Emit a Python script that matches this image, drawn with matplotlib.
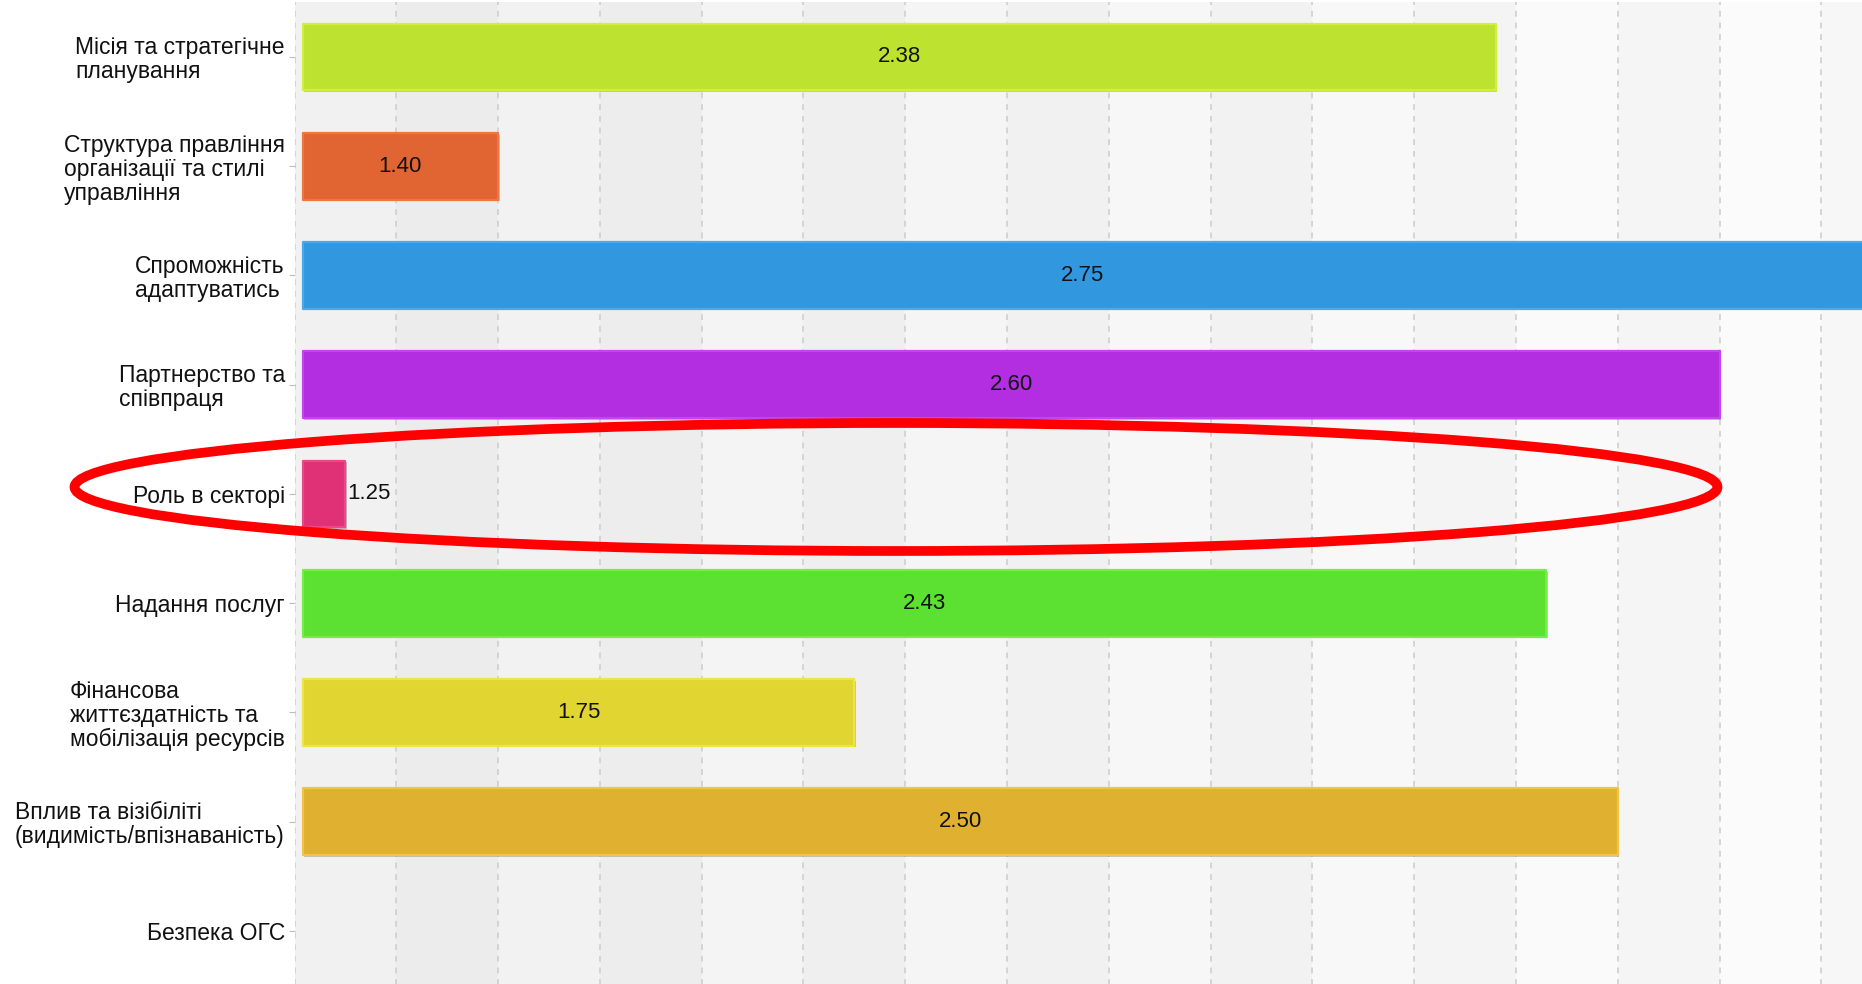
import numpy as np
import matplotlib
matplotlib.use("Agg")
import matplotlib.pyplot as plt
import matplotlib.patheffects as pe
from matplotlib.patches import Ellipse

plt.rcParams['font.family'] = ['Liberation Sans', 'DejaVu Sans']

categories = [
    "Місія та стратегічне\nпланування",
    "Структура правління\nорганізації та стилі\nуправління",
    "Спроможність\nадаптуватись",
    "Партнерство та\nспівпраця",
    "Роль в секторі",
    "Надання послуг",
    "Фінансова\nжиттєздатність та\nмобілізація ресурсів",
    "Вплив та візібіліті\n(видимість/впізнаваність)",
    "Безпека ОГС",
]
values = [2.38, 1.40, 2.75, 2.60, 1.25, 2.43, 1.75, 2.50, np.nan]
value_labels = ["2.38", "1.40", "2.75", "2.60", "1.25", "2.43", "1.75", "2.50", ""]
colors = ["#bde22f", "#e06532", "#3198e0", "#b22ee0", "#e03177",
          "#5ce031", "#e0d531", "#e0b031", "#cccccc"]
edge_colors = ["#d0f03a", "#ef7642", "#4aa8ee", "#c246ee", "#ee4686",
               "#72ee46", "#eee446", "#f2c446", "#cccccc"]

XMIN, XMAX = 1.2, 2.74
BASE = XMIN + 0.008

fig = plt.figure(figsize=(18.62, 9.84), dpi=100)
ax = fig.add_axes([0.1582, -0.0016, 0.8418, 0.9992])

# alternating background bands, lighter towards the right
n_bands = 16
for k in range(n_bands):
    t = k / 14
    if k % 2 == 0:
        g = 241 + 10 * t
    else:
        g = 235 + 11 * t
    g = min(g, 253) / 255
    ax.axvspan(XMIN + 0.1 * k, XMIN + 0.1 * (k + 1), color=(g, g, g), lw=0, zorder=0)

y = np.arange(len(categories))
widths = np.array(values) - BASE
bars = ax.barh(y, widths, left=BASE, height=0.61, color=colors,
               edgecolor=edge_colors, linewidth=1.6, zorder=3)
for b in bars:
    b.set_joinstyle("round")
    b.set_path_effects([pe.SimplePatchShadow(offset=(1.2, -1.2), alpha=0.25),
                        pe.Normal()])

for i, (v, lab) in enumerate(zip(values, value_labels)):
    if np.isnan(v):
        continue
    end = min(v, XMAX)
    if end - BASE < 0.1:
        ax.text(v + 0.002, i, lab, ha="left", va="center", fontsize=16,
                color="#111111", zorder=4)
    else:
        ax.text((BASE + end) / 2, i, lab, ha="center", va="center",
                fontsize=16, color="#111111", zorder=4)

ax.set_xlim(XMIN, XMAX)
ax.set_ylim(len(categories) - 0.5, -0.5)
ax.set_xticks(np.arange(XMIN, XMAX + 0.05, 0.1))
ax.set_xticklabels([])
ax.tick_params(axis="x", length=0)
ax.grid(axis="x", color="#cfcfcf", linestyle=(0, (3.5, 3.5)), linewidth=1.2, zorder=1)
ax.set_axisbelow(True)

ax.set_yticks(y)
ax.set_yticklabels(categories, fontsize=16.5, color="#111111",
                   multialignment="left", linespacing=1.05)
ax.tick_params(axis="y", length=4, color="#bbbbbb", pad=3)

for s in ax.spines.values():
    s.set_visible(False)

# red highlight ellipse around "Роль в секторі"
W, H = 1862, 984
ell = Ellipse((896 / W, 1 - 487 / H), 1643 / W, 128 / H, transform=fig.transFigure,
              fill=False, edgecolor="#ff0000", linewidth=7, zorder=10)
fig.add_artist(ell)

fig.savefig("out.png", dpi=100, facecolor="white")
